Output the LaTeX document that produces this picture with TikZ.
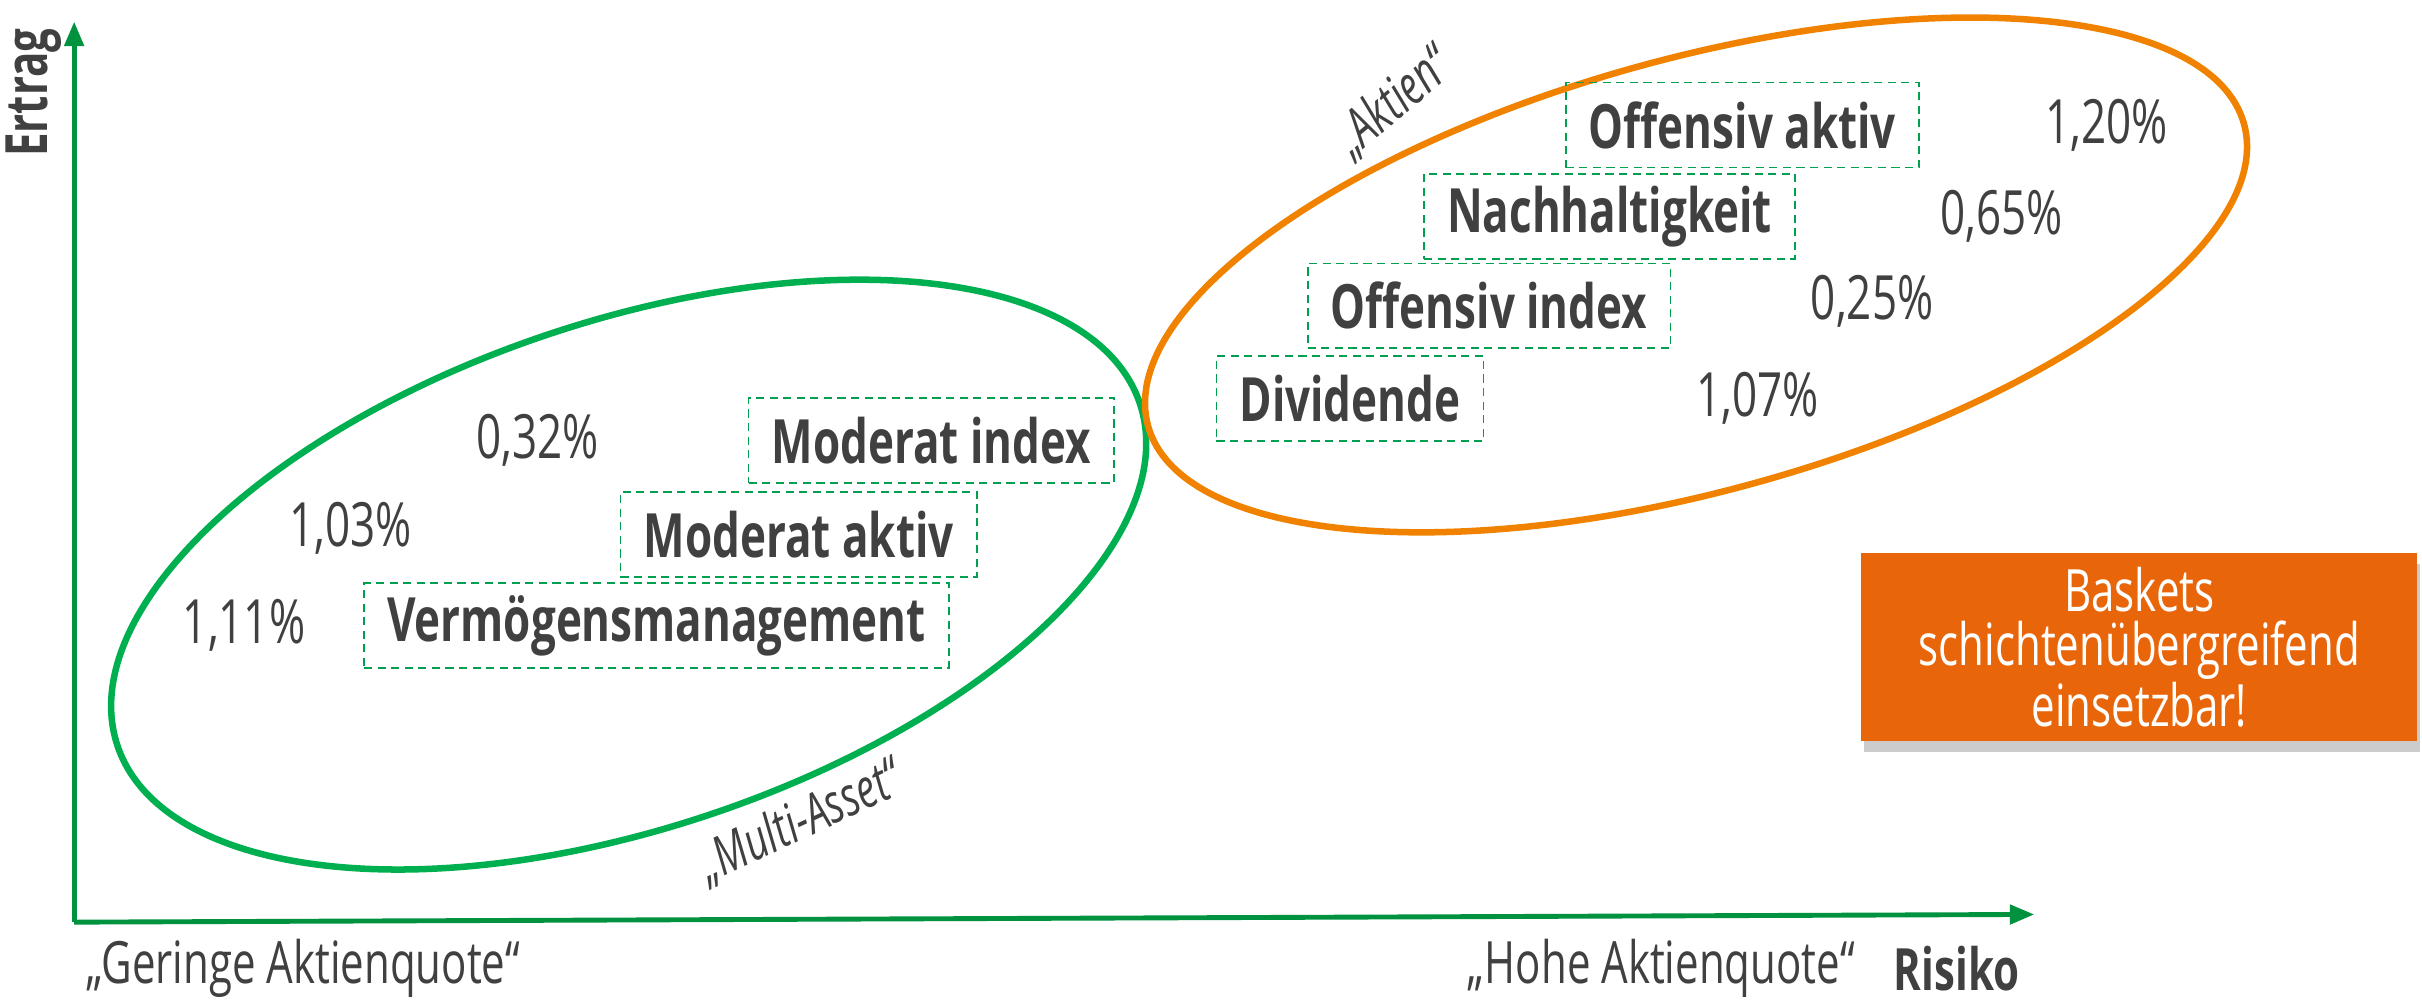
\documentclass[tikz,border=0pt]{standalone}
\usepackage{fontspec}
\setmainfont{Open Sans}[FakeStretch=0.72]
\usepackage{tikz}
\usetikzlibrary{arrows.meta,shadows}
\definecolor{axisgreen}{RGB}{0,146,63}
\definecolor{ringgreen}{RGB}{0,176,80}
\definecolor{ringorange}{RGB}{240,130,0}
\definecolor{boxorange}{RGB}{232,101,10}
\definecolor{textgray}{RGB}{64,64,64}
\definecolor{dashgreen}{RGB}{0,160,80}

\begin{document}
\begin{tikzpicture}[x=0.02cm,y=0.02cm,
    basket/.style={draw=dashgreen,densely dashed,line width=0.6pt,text=textgray,
      font=\bfseries\fontsize{22.5}{24}\selectfont,minimum height=1.1cm,inner xsep=0.3cm},
    pct/.style={text=textgray,font=\fontsize{22.5}{24}\selectfont},
    axislbl/.style={text=textgray,font=\fontsize{21.5}{24}\selectfont,inner sep=1pt},
    grouplbl/.style={text=textgray,font=\itshape\fontsize{20}{22}\selectfont,inner sep=1pt},
    ring/.style={line width=2.4pt}]
  \useasboundingbox (0,0) rectangle (1568,-648);

  \coordinate (origin) at (48,-597);
  \coordinate (ytip) at (48,-14);
  \coordinate (xtip) at (1317,-592);
  \draw[axisgreen,line width=1.8pt,-{Triangle[length=9pt,width=7pt]}] (origin) -- (ytip);
  \draw[axisgreen,line width=1.8pt,-{Triangle[length=9pt,width=7pt]}] (origin) -- (xtip);
  \node[rotate=90,text=textgray,font=\bfseries\fontsize{21.5}{24}\selectfont] (ertrag) at (22,-60) {Ertrag};
  \node[axislbl,anchor=west] (gering) at (54,-627) {„Geringe Aktienquote“};
  \node[axislbl,anchor=east] (hoch) at (1203,-627) {„Hohe Aktienquote“};
  \node[axislbl,font=\bfseries\fontsize{21.5}{24}\selectfont,anchor=west] (risiko) at (1224,-627) {Risiko};

  \draw[ring,ringgreen,rotate around={18.5:(407,-372)}] (407,-372) ellipse [x radius=349,y radius=164];
  \draw[ring,ringorange,rotate around={15.4:(1098,-178)}] (1098,-178) ellipse [x radius=368,y radius=140];

  \node[grouplbl,rotate=25] (multi) at (518,-532) {„Multi-Asset“};
  \node[grouplbl,rotate=40] (aktien) at (902,-66) {„Aktien“};

  \node[basket] (modidx) at (603,-285) {Moderat index};
  \node[basket] (modakt) at (517,-346) {Moderat aktiv};
  \node[basket] (verm) at (425,-405) {Vermögensmanagement};
  \node[pct] (p032) at (348,-285) {0,32\%};
  \node[pct] (p103) at (227,-342) {1,03\%};
  \node[pct] (p111) at (158,-405) {1,11\%};

  \node[basket] (offakt) at (1128,-81) {Offensiv aktiv};
  \node[basket] (nach) at (1042,-140) {Nachhaltigkeit};
  \node[basket] (offidx) at (964,-198) {Offensiv index};
  \node[basket] (divi) at (874,-258) {Dividende};
  \node[pct] (p120) at (1364,-81) {1,20\%};
  \node[pct] (p065) at (1296,-140) {0,65\%};
  \node[pct] (p025) at (1212,-195) {0,25\%};
  \node[pct] (p107) at (1138,-258) {1,07\%};

  \node[fill=boxorange,text=white,align=center,font=\fontsize{21.5}{20}\selectfont,
    minimum width=7.2cm,minimum height=2.44cm,
    drop shadow={shadow xshift=1pt,shadow yshift=-4pt,fill=black!40}] (note) at (1385,-419)
    {Baskets\\schichtenübergreifend\\einsetzbar!};
\end{tikzpicture}
\end{document}
